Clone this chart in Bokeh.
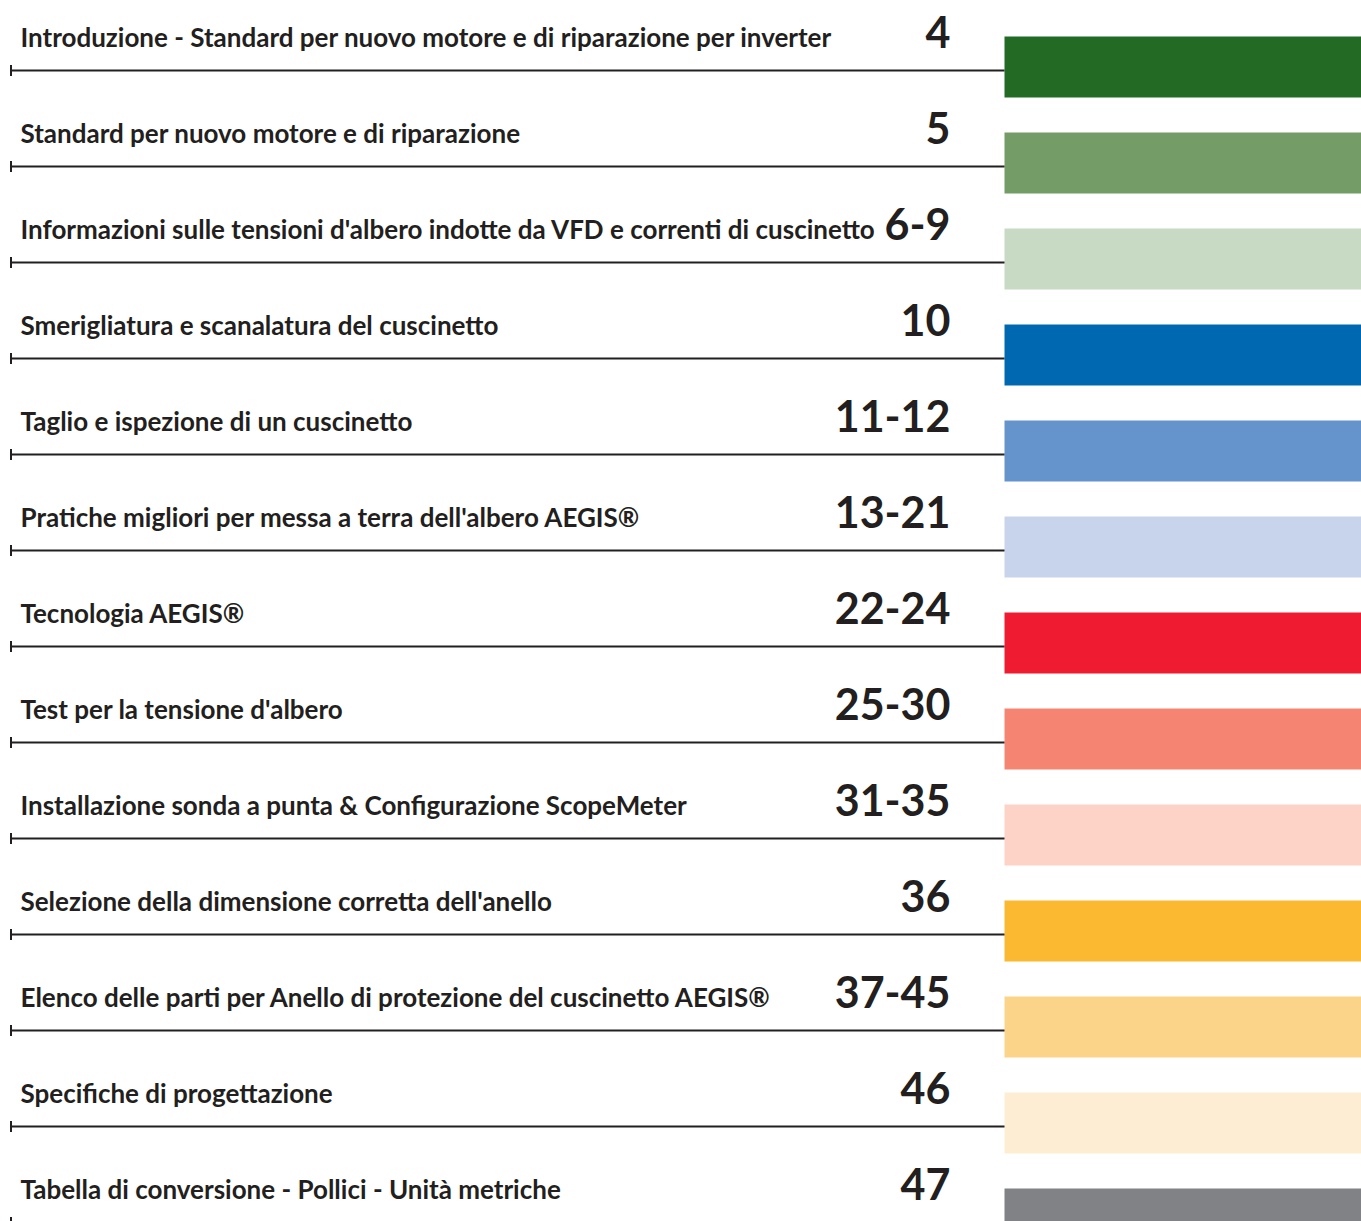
import numpy as np
from bokeh.plotting import figure
from bokeh.models import Range1d, ColumnDataSource
from bokeh.core.properties import value
from bokeh.embed import file_html
from bokeh.resources import INLINE

titles = [
    "Introduzione - Standard per nuovo motore e di riparazione per inverter",
    "Standard per nuovo motore e di riparazione",
    "Informazioni sulle tensioni d'albero indotte da VFD e correnti di cuscinetto",
    "Smerigliatura e scanalatura del cuscinetto",
    "Taglio e ispezione di un cuscinetto",
    "Pratiche migliori per messa a terra dell'albero AEGIS\u00ae",
    "Tecnologia AEGIS\u00ae",
    "Test per la tensione d'albero",
    "Installazione sonda a punta & Configurazione ScopeMeter",
    "Selezione della dimensione corretta dell'anello",
    "Elenco delle parti per Anello di protezione del cuscinetto AEGIS\u00ae",
    "Specifiche di progettazione",
    "Tabella di conversione - Pollici - Unit\u00e0 metriche",
]
pages = ["4", "5", "6-9", "10", "11-12", "13-21", "22-24", "25-30",
         "31-35", "36", "37-45", "46", "47"]
colors = ["#236B24", "#739C66", "#C8D9C4", "#0068B1", "#6593CB", "#C8D4EB",
          "#EE1B31", "#F58572", "#FCD3C6", "#FBB831", "#FCD489", "#FDEDD2",
          "#818285"]

n = len(titles)
row = np.arange(n)
step = 96.0
line_y = 70 + step * row
src = ColumnDataSource(dict(
    title=titles, page=pages, color=colors,
    line_y=line_y,
    title_y=line_y - 34,
    page_y=line_y - 39,
    bar_top=line_y - 34,
    bar_bot=line_y + 27,
))

p = figure(width=1361, height=1221, output_backend="svg", toolbar_location=None,
           x_range=Range1d(0, 1361), y_range=Range1d(1221, 0),
           min_border=0, outline_line_color=None)
p.axis.visible = False
p.grid.visible = False
p.background_fill_color = "white"
p.border_fill_color = "white"

p.quad(left=1004, right=1361, top="bar_top", bottom="bar_bot",
       fill_color="color", line_color=None, source=src)
p.segment(x0=10, x1=1004, y0="line_y", y1="line_y", line_color="#231F20",
          line_width=2.2, source=src)
p.rect(x=10.5, y="line_y", width=2, height=11, fill_color="#231F20",
       line_color=None, source=src)

p.text(x=20, y="title_y", text="title", source=src,
       text_font=value("Lato"), text_font_style="bold",
       text_font_size="26px", text_color="#231F20",
       text_baseline="alphabetic", text_align="left")
p.text(x=950, y="page_y", text="page", source=src,
       text_font=value("Lato"), text_font_style="bold",
       text_font_size="43px", text_color="#231F20",
       text_baseline="alphabetic", text_align="right")

open("out.html", "w").write(file_html(p, INLINE))
